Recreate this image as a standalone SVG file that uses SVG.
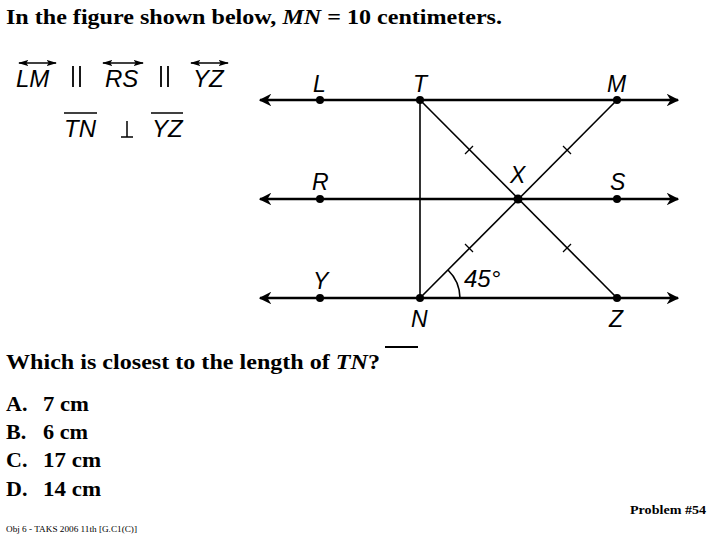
<svg xmlns="http://www.w3.org/2000/svg" width="720" height="540" viewBox="0 0 720 540">
<style>
.t{font-family:"Liberation Serif",serif;font-weight:bold;font-size:22px;fill:#000}
.s{font-family:"Liberation Sans",sans-serif;font-size:24px;font-style:italic;fill:#000}
.l{stroke:#000;stroke-width:2.5;fill:none}
.n{stroke:#000;stroke-width:1.6;fill:none}
.tk{stroke:#000;stroke-width:1.2}
</style>
<defs>
<marker id="ah" viewBox="0 0 10 10" refX="9" refY="5" markerWidth="5" markerHeight="5" orient="auto-start-reverse"><path d="M0,0 L10,5 L0,10 L3,5 Z" fill="#000"/></marker>
<marker id="sa" viewBox="0 0 10 10" refX="9" refY="5" markerWidth="8" markerHeight="8" orient="auto-start-reverse"><path d="M0,2 L10,5 L0,8 L2,5 Z" fill="#000"/></marker>
</defs>
<rect width="720" height="540" fill="#fff"/>
<text class="t" x="6" y="24" textLength="496" lengthAdjust="spacingAndGlyphs">In the figure shown below, <tspan font-style="italic">MN</tspan> = 10 centimeters.</text>
<g id="notation">
<line x1="19" y1="63" x2="56" y2="63" stroke="#000" stroke-width="1.3" marker-start="url(#sa)" marker-end="url(#sa)"/>
<text class="s" x="16" y="87">LM</text>
<line x1="73" y1="66" x2="73" y2="87" stroke="#000" stroke-width="1.8"/><line x1="80" y1="66" x2="80" y2="87" stroke="#000" stroke-width="1.8"/>
<line x1="103" y1="63" x2="143" y2="63" stroke="#000" stroke-width="1.3" marker-start="url(#sa)" marker-end="url(#sa)"/>
<text class="s" x="105" y="87">RS</text>
<line x1="161" y1="66" x2="161" y2="87" stroke="#000" stroke-width="1.8"/><line x1="168" y1="66" x2="168" y2="87" stroke="#000" stroke-width="1.8"/>
<line x1="191" y1="63" x2="228" y2="63" stroke="#000" stroke-width="1.3" marker-start="url(#sa)" marker-end="url(#sa)"/>
<text class="s" x="193" y="87">YZ</text>
<line x1="64" y1="113" x2="97" y2="113" stroke="#000" stroke-width="1.5"/>
<text class="s" x="64" y="137">TN</text>
<line x1="121" y1="137" x2="133" y2="137" stroke="#000" stroke-width="1.5"/><line x1="127" y1="121" x2="127" y2="137" stroke="#000" stroke-width="1.5"/>
<line x1="151" y1="113" x2="183" y2="113" stroke="#000" stroke-width="1.5"/>
<text class="s" x="152" y="137">YZ</text>
</g>
<g id="connectors">
<line class="l" x1="260" y1="100" x2="678" y2="100" marker-start="url(#ah)" marker-end="url(#ah)"/>
<line class="l" x1="260" y1="199" x2="678" y2="199" marker-start="url(#ah)" marker-end="url(#ah)"/>
<line class="l" x1="260" y1="298" x2="678" y2="298" marker-start="url(#ah)" marker-end="url(#ah)"/>
<line class="n" x1="420" y1="100" x2="420" y2="298"/>
<line class="n" x1="420" y1="100" x2="617" y2="298"/>
<line class="n" x1="617" y1="100" x2="420" y2="298"/>
<g class="tk"><line x1="465" y1="154" x2="473" y2="146"/><line x1="563" y1="146" x2="571" y2="154"/><line x1="465" y1="244" x2="473" y2="252"/><line x1="563" y1="252" x2="571" y2="244"/></g>
<path class="n" d="M448,270 A40,40 0 0 1 460,298" stroke-width="1.3"/>
<text class="s" x="464" y="287" font-style="normal" font-size="23">45°</text>
</g>
<g id="nodes" fill="#000" font-family="Liberation Sans,sans-serif" font-style="italic" font-size="23">
<g id="L"><circle cx="320" cy="100" r="4"/><text x="313" y="92">L</text></g>
<g id="T"><circle cx="420" cy="100" r="4"/><text x="413" y="92">T</text></g>
<g id="M"><circle cx="617" cy="100" r="4"/><text x="607" y="92">M</text></g>
<g id="R"><circle cx="320" cy="199" r="4"/><text x="312" y="190">R</text></g>
<g id="X"><circle cx="518" cy="199" r="4.5"/><text x="510" y="183">X</text></g>
<g id="S"><circle cx="617" cy="199" r="4"/><text x="610" y="190">S</text></g>
<g id="Y"><circle cx="320" cy="298" r="4"/><text x="313" y="289">Y</text></g>
<g id="N"><circle cx="420" cy="298" r="4"/><text x="411" y="327">N</text></g>
<g id="Z"><circle cx="617" cy="298" r="4"/><text x="609" y="327">Z</text></g>
</g>
<text class="t" x="6" y="369" textLength="374" lengthAdjust="spacingAndGlyphs">Which is closest to the length of <tspan font-style="italic">TN</tspan>?</text>
<line x1="385" y1="347" x2="418" y2="347" stroke="#000" stroke-width="2"/>
<g>
<text class="t" x="6" y="411">A.</text><text class="t" x="43" y="411" textLength="46" lengthAdjust="spacingAndGlyphs">7 cm</text>
<text class="t" x="6" y="439">B.</text><text class="t" x="43" y="439" textLength="45" lengthAdjust="spacingAndGlyphs">6 cm</text>
<text class="t" x="6" y="467">C.</text><text class="t" x="43" y="467" textLength="58" lengthAdjust="spacingAndGlyphs">17 cm</text>
<text class="t" x="6" y="496">D.</text><text class="t" x="43" y="496" textLength="58" lengthAdjust="spacingAndGlyphs">14 cm</text>
</g>
<text x="630" y="514" textLength="76" lengthAdjust="spacingAndGlyphs" font-family="Liberation Serif,serif" font-weight="bold" font-size="13">Problem #54</text>
<text x="6" y="532" textLength="131" lengthAdjust="spacingAndGlyphs" font-family="Liberation Serif,serif" font-size="9">Obj 6 - TAKS 2006 11th [G.C1(C)]</text>
</svg>
